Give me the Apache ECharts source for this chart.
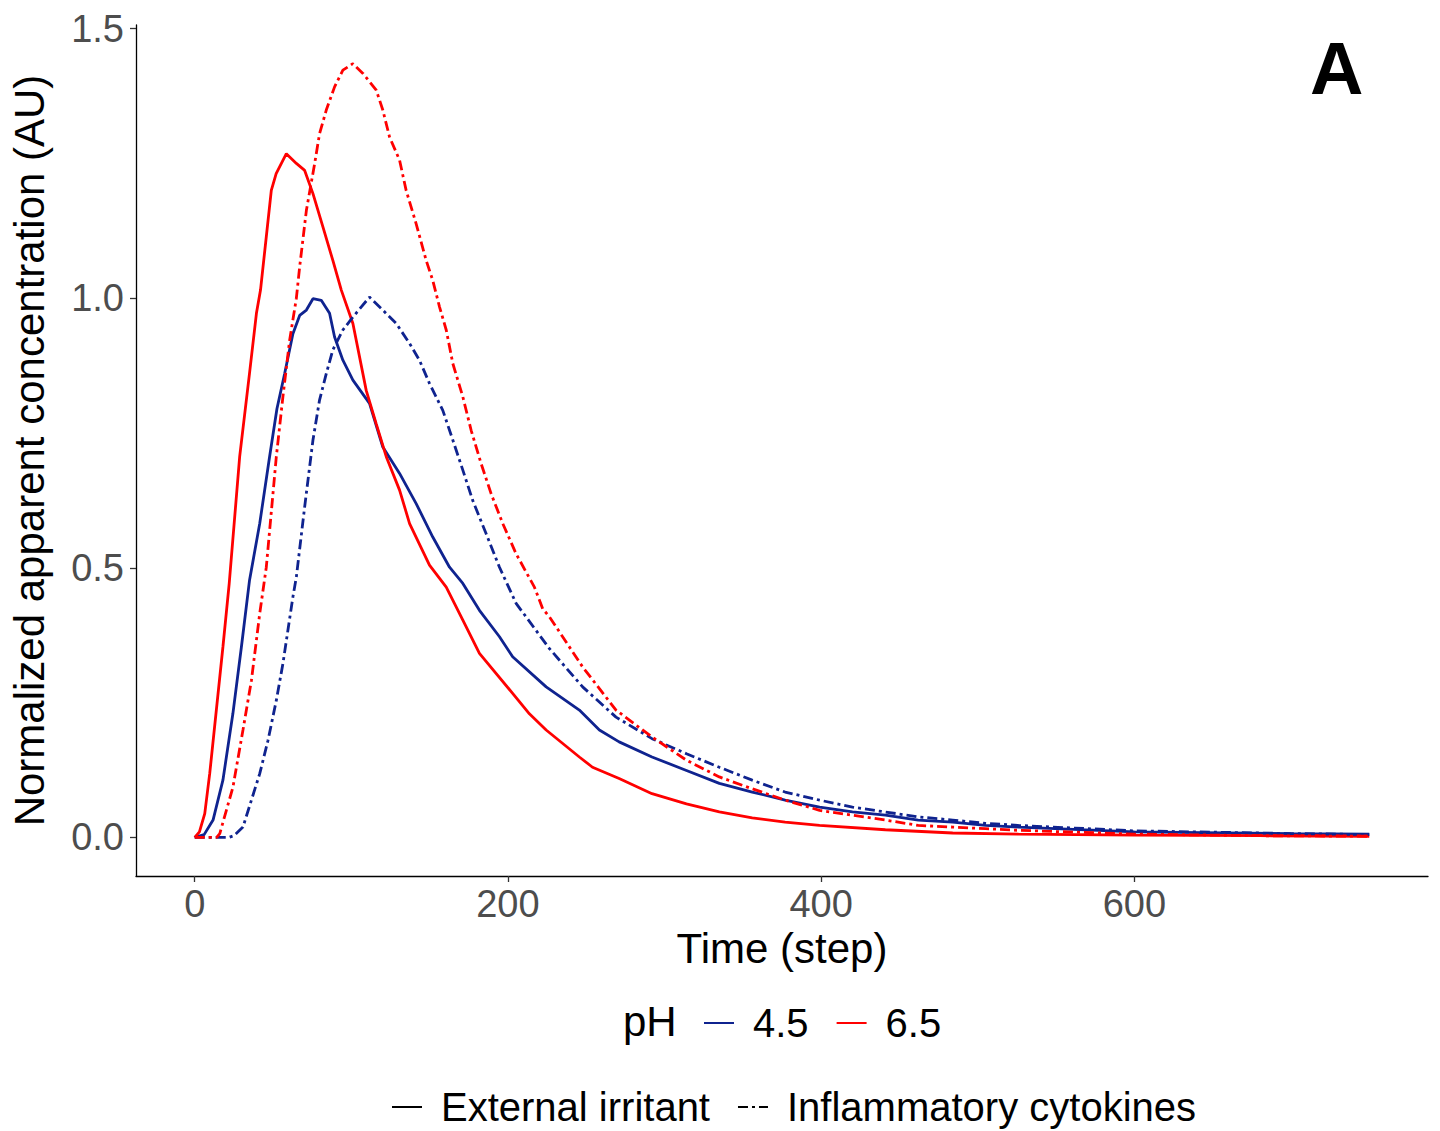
<!DOCTYPE html>
<html>
<head>
<meta charset="utf-8">
<script src="https://cdn.jsdelivr.net/npm/echarts@6/dist/echarts.min.js"></script>
<style>
html,body{margin:0;padding:0;background:#fff;}
#chart{width:1440px;height:1131px;}
</style>
</head>
<body>
<div id="chart"></div>
<script>
// ---- data (time step, normalized concentration) ----
const xTickValues = [0, 200, 400, 600];
const yTickValues = [0, 0.5, 1.0, 1.5];
const phLevels = ['4.5', '6.5'];
const signalTypes = ['External irritant', 'Inflammatory cytokines'];

const ph45External = [[0,0],[6,0.005],[11.7,0.032],[18,0.106],[24.4,0.23],[29.8,0.353],[35,0.477],[41.5,0.582],[47.8,0.706],[52.5,0.795],[57.4,0.86],[62.7,0.934],[67,0.968],[71.3,0.978],[75.5,0.999],[80.8,0.996],[86.1,0.972],[89.3,0.928],[94.6,0.885],[101,0.848],[111.6,0.805],[120.1,0.724],[130.8,0.675],[141.4,0.619],[152,0.557],[162.7,0.501],[171.2,0.471],[181.8,0.421],[194.6,0.372],[203,0.335],[224.4,0.279],[245.6,0.236],[258.4,0.199],[271,0.177],[292,0.149],[314,0.124],[335,0.1],[356,0.084],[377,0.069],[399,0.056],[420,0.047],[441,0.041],[462,0.032],[484,0.028],[505,0.022],[526,0.019],[600,0.01],[700,0.007],[750,0.006]];

const ph65External = [[0,0],[3,0.01],[6.4,0.044],[9.6,0.119],[18,0.353],[22,0.47],[28.7,0.706],[35,0.861],[39.4,0.972],[42,1.015],[45.7,1.114],[48.9,1.2],[52,1.231],[58.5,1.268],[64.9,1.25],[70.2,1.237],[75.5,1.194],[81.9,1.132],[88.2,1.07],[93.6,1.015],[101,0.953],[109.5,0.829],[115.9,0.767],[122.3,0.706],[130.8,0.644],[137.2,0.582],[149.9,0.505],[160.6,0.464],[171.2,0.403],[181.8,0.341],[203,0.267],[213.7,0.229],[224.4,0.199],[245.6,0.149],[254,0.13],[271,0.109],[292,0.081],[314,0.062],[335,0.047],[356,0.036],[377,0.028],[399,0.022],[441,0.014],[484,0.008],[526,0.006],[600,0.004],[680,0.003],[750,0.002]];

const ph45Cytokines = [[0,0],[22,0],[25,0.003],[30.8,0.019],[36.2,0.069],[41.5,0.118],[46.8,0.18],[52.1,0.254],[56.3,0.322],[59.5,0.384],[62.7,0.446],[64.9,0.483],[70.2,0.613],[75.5,0.737],[79.7,0.811],[84,0.86],[88.2,0.904],[94.6,0.941],[101,0.965],[111.6,1.002],[120.1,0.978],[128.7,0.953],[137.2,0.916],[143.5,0.885],[149.9,0.842],[158.4,0.792],[164.8,0.737],[171.2,0.681],[177.5,0.625],[186.1,0.563],[194.6,0.501],[205.2,0.434],[226.5,0.35],[247.7,0.279],[269,0.223],[292,0.183],[314,0.155],[335,0.13],[356,0.106],[377,0.084],[399,0.069],[420,0.056],[441,0.047],[462,0.038],[484,0.032],[505,0.026],[526,0.022],[600,0.012],[700,0.007],[750,0.005]];

const ph65Cytokines = [[0,0],[14,0],[16,0.007],[24.4,0.093],[30.8,0.199],[36.2,0.291],[41.5,0.415],[45.7,0.501],[52.1,0.706],[56.3,0.817],[60.6,0.922],[64.9,1.0],[67,1.058],[71.3,1.163],[76.6,1.25],[79.7,1.305],[84,1.349],[89.3,1.392],[94.6,1.423],[101,1.435],[107.4,1.417],[115.9,1.386],[120.1,1.349],[124.4,1.299],[130.8,1.256],[135,1.2],[141.4,1.138],[147.8,1.07],[152,1.033],[156.3,0.984],[160.6,0.941],[164.8,0.879],[171.2,0.817],[176.5,0.755],[182.9,0.693],[189.3,0.637],[196.7,0.582],[205.2,0.526],[216.9,0.464],[222.2,0.424],[226.5,0.409],[247.7,0.316],[269,0.236],[292,0.186],[314,0.143],[335,0.112],[356,0.09],[377,0.069],[399,0.05],[420,0.041],[441,0.032],[462,0.022],[484,0.019],[505,0.016],[526,0.013],[600,0.006],[680,0.003],[750,0.002]];

// ---- styling ----
const BLUE = '#0F238F';
const RED = '#FF0000';
const FONT = '"Liberation Sans", Arial, sans-serif';
const DASH = [10, 4, 3, 4];
const LW = 2.8;

function lineSeries(name, data, color, dashed) {
  return {
    name: name, type: 'line', data: data, showSymbol: false, symbol: 'none',
    lineStyle: {color: color, width: LW, type: dashed ? DASH : 'solid'},
    itemStyle: {color: color}, silent: true, animation: false, z: 3
  };
}
function legendSeries(name, color, dashed) {
  return {
    name: name, type: 'line', data: [], symbol: 'none',
    lineStyle: {color: color, width: LW, type: dashed ? DASH : 'solid'},
    itemStyle: {color: color}, animation: false
  };
}

const chart = echarts.init(document.getElementById('chart'), null, {renderer: 'svg'});
chart.setOption({
  backgroundColor: '#fff',
  animation: false,
  textStyle: {fontFamily: FONT},
  grid: {left: 136, right: 12, top: 25, bottom: 255, containLabel: false},
  xAxis: {
    type: 'value', min: -37.5, max: 787.5,
    axisLine: {show: true, onZero: false, lineStyle: {color: '#000', width: 1.3}},
    axisTick: {show: true, customValues: xTickValues, length: 6, lineStyle: {color: '#333', width: 1.3}},
    axisLabel: {customValues: xTickValues, fontSize: 38, color: '#4D4D4D', margin: 9, fontFamily: FONT},
    splitLine: {show: false},
    name: 'Time (step)', nameLocation: 'middle', nameGap: 49,
    nameTextStyle: {fontSize: 42, color: '#000', fontFamily: FONT}
  },
  yAxis: {
    type: 'value', min: -0.07175, max: 1.50675,
    axisLine: {show: true, onZero: false, lineStyle: {color: '#000', width: 1.3}},
    axisTick: {show: true, customValues: yTickValues, length: 6, lineStyle: {color: '#333', width: 1.3}},
    axisLabel: {customValues: yTickValues, fontSize: 38, color: '#4D4D4D', margin: 12, fontFamily: FONT,
      formatter: v => v.toFixed(1)},
    splitLine: {show: false},
    name: 'Normalized apparent concentration (AU)', nameLocation: 'middle', nameGap: 86,
    nameTextStyle: {fontSize: 42, color: '#000', fontFamily: FONT}
  },
  legend: [
    {
      data: phLevels, orient: 'horizontal', left: 703, top: 1003, padding: 0,
      itemWidth: 30, itemHeight: 22, itemGap: 27, selectedMode: false,
      itemStyle: {opacity: 0},
      textStyle: {fontSize: 40, color: '#000', fontFamily: FONT, padding: [0, 0, 0, 14]}
    },
    {
      data: signalTypes, orient: 'horizontal', left: 391, top: 1087, padding: 0,
      itemWidth: 30, itemHeight: 22, itemGap: 27, selectedMode: false,
      itemStyle: {opacity: 0},
      textStyle: {fontSize: 40, color: '#000', fontFamily: FONT, padding: [0, 0, 0, 14]}
    }
  ],
  graphic: [
    {type: 'text', left: 1310, top: 31, style: {text: 'A', font: 'bold 74px ' + FONT, fill: '#000'}},
    {type: 'text', left: 623, top: 1000, style: {text: 'pH', font: '42px ' + FONT, fill: '#000'}}
  ],
  series: [
    lineSeries('pH 4.5 External irritant', ph45External, BLUE, false),
    lineSeries('pH 6.5 External irritant', ph65External, RED, false),
    lineSeries('pH 4.5 Inflammatory cytokines', ph45Cytokines, BLUE, true),
    lineSeries('pH 6.5 Inflammatory cytokines', ph65Cytokines, RED, true),
    legendSeries('4.5', BLUE, false),
    legendSeries('6.5', RED, false),
    legendSeries('External irritant', '#000', false),
    legendSeries('Inflammatory cytokines', '#000', true)
  ]
});
</script>
</body>
</html>
